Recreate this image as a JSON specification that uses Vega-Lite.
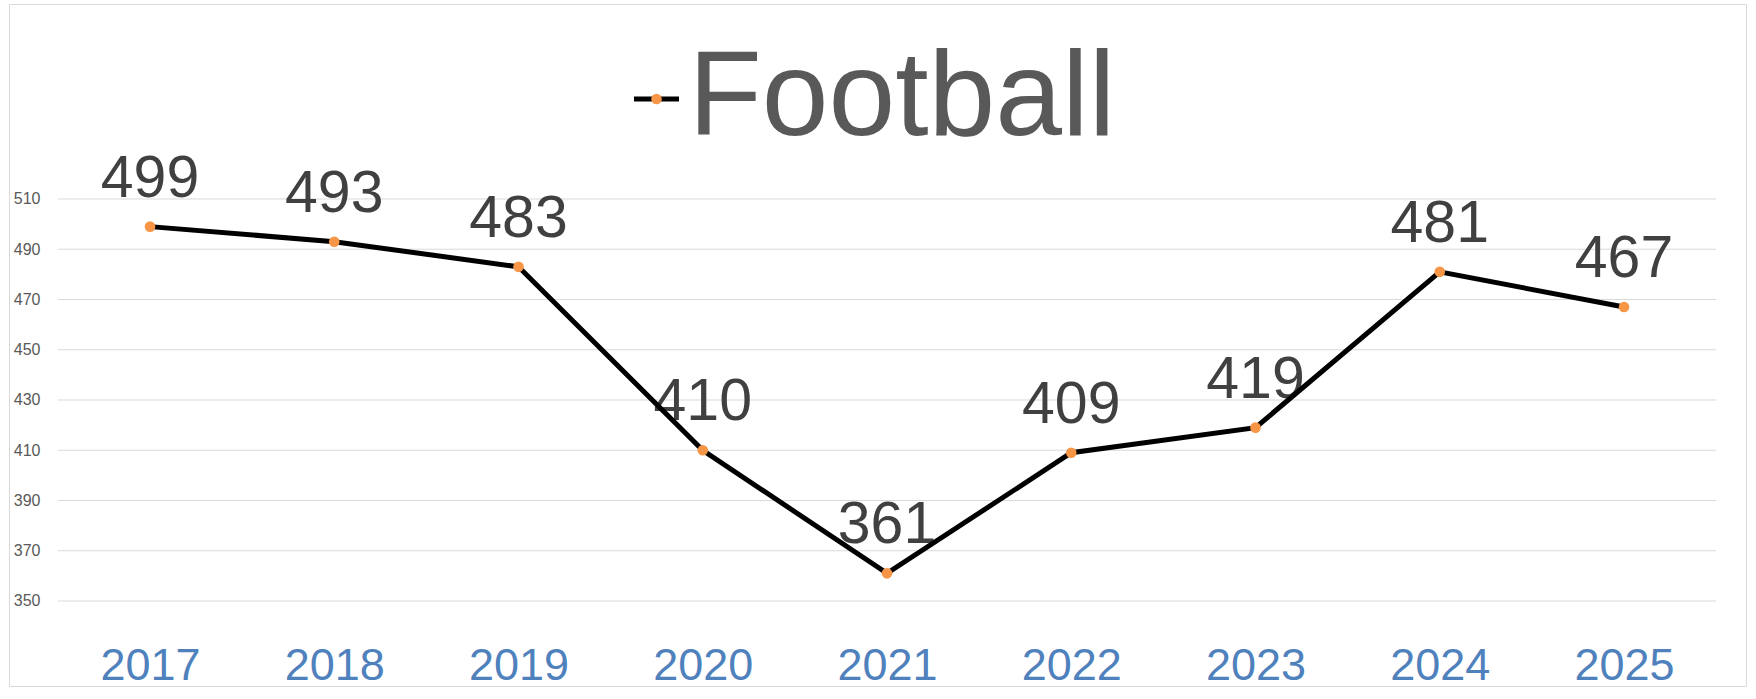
{
  "$schema": "https://vega.github.io/schema/vega-lite/v6.json",
  "width": 1737,
  "height": 682,
  "autosize": {"type": "none"},
  "padding": {"left": 9, "top": 4, "right": 10, "bottom": 13},
  "background": "#FFFFFF",
  "config": {
    "view": {"stroke": "#D9D9D9", "strokeWidth": 1},
    "font": "Liberation Sans"
  },
  "datasets": {
    "main": [
      {"year": 2017, "value": 499, "series": "Football"},
      {"year": 2018, "value": 493, "series": "Football"},
      {"year": 2019, "value": 483, "series": "Football"},
      {"year": 2020, "value": 410, "series": "Football"},
      {"year": 2021, "value": 361, "series": "Football"},
      {"year": 2022, "value": 409, "series": "Football"},
      {"year": 2023, "value": 419, "series": "Football"},
      {"year": 2024, "value": 481, "series": "Football"},
      {"year": 2025, "value": 467, "series": "Football"}
    ],
    "grid": [
      {"tick": 350}, {"tick": 370}, {"tick": 390}, {"tick": 410}, {"tick": 430},
      {"tick": 450}, {"tick": 470}, {"tick": 490}, {"tick": 510}
    ]
  },
  "layer": [
    {
      "data": {"name": "grid"},
      "mark": {"type": "rule", "stroke": "#D9D9D9", "strokeWidth": 1},
      "encoding": {
        "y": {"field": "tick", "type": "quantitative"},
        "x": {"datum": 2016.5, "type": "quantitative"},
        "x2": {"datum": 2025.5}
      }
    },
    {
      "data": {"name": "main"},
      "mark": {"type": "text", "baseline": "alphabetic", "align": "center", "dy": -30, "fontSize": 59, "font": "Liberation Sans", "color": "#404040"},
      "encoding": {
        "x": {"field": "year", "type": "quantitative"},
        "y": {"field": "value", "type": "quantitative"},
        "text": {"field": "value", "type": "quantitative"}
      }
    },
    {
      "data": {"name": "main"},
      "mark": {"type": "line", "strokeWidth": 5},
      "encoding": {
        "x": {
          "field": "year", "type": "quantitative",
          "scale": {"domain": [2016.2347, 2025.6621], "nice": false, "zero": false},
          "axis": {
            "values": [2017, 2018, 2019, 2020, 2021, 2022, 2023, 2024, 2025],
            "format": "d", "title": null, "grid": false, "domain": false, "ticks": false, "tickSize": 0,
            "labelFont": "Liberation Sans", "labelFontSize": 45, "labelColor": "#4F81BD",
            "labelBaseline": "alphabetic", "labelPadding": -7, "labelFlush": false, "labelOverlap": false
          }
        },
        "y": {
          "field": "value", "type": "quantitative",
          "scale": {"domain": [316.17, 587.6], "nice": false, "zero": false},
          "axis": {
            "values": [350, 370, 390, 410, 430, 450, 470, 490, 510],
            "title": null, "grid": false, "domain": false, "ticks": false, "tickSize": 0,
            "labelFont": "Liberation Sans", "labelFontSize": 16, "labelColor": "#595959",
            "labelAlign": "right", "labelBaseline": "middle", "labelPadding": -31, "labelFlush": false, "labelOverlap": false
          }
        },
        "color": {
          "field": "series", "type": "nominal",
          "scale": {"range": ["#000000"]},
          "legend": {
            "orient": "none", "legendX": 587.5, "legendY": 35, "title": null, "padding": 0,
            "symbolType": "stroke", "symbolSize": 2025, "symbolStrokeWidth": 5,
            "labelFont": "Liberation Sans", "labelFontSize": 120, "labelColor": "#595959", "labelOffset": -28, "labelLimit": 1000
          }
        }
      }
    },
    {
      "data": {"name": "main"},
      "mark": {"type": "point", "filled": true, "size": 113, "shape": "circle", "opacity": 1},
      "encoding": {
        "x": {"field": "year", "type": "quantitative"},
        "y": {"field": "value", "type": "quantitative"},
        "fill": {
          "field": "series", "type": "nominal",
          "scale": {"range": ["#F79646"]},
          "legend": {
            "orient": "none", "legendX": 587.5, "legendY": 35, "title": null, "padding": 0,
            "symbolType": "circle", "symbolSize": 113, "symbolStrokeWidth": 0, "symbolOpacity": 1,
            "labelFont": "Liberation Sans", "labelFontSize": 120, "labelOpacity": 0, "labelOffset": -28, "labelLimit": 1000
          }
        }
      }
    }
  ]
}
